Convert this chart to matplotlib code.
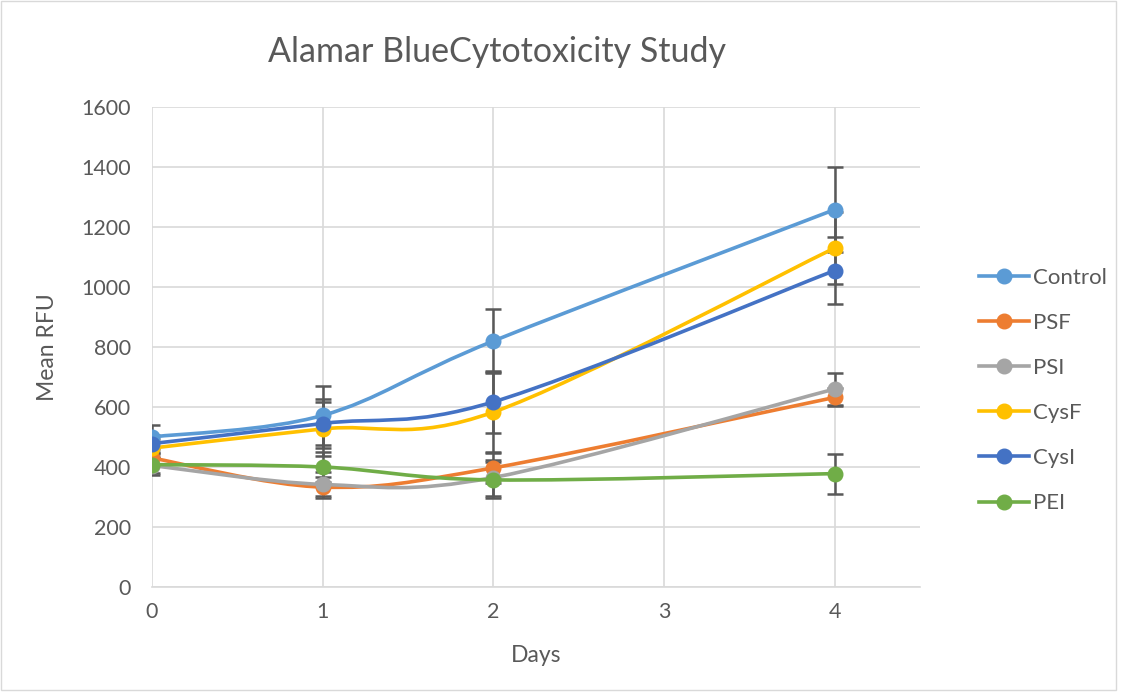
import numpy as np
import matplotlib
matplotlib.use("Agg")
import matplotlib.pyplot as plt
from matplotlib.path import Path
from matplotlib.patches import PathPatch, Rectangle
from matplotlib.lines import Line2D

plt.rcParams['font.family'] = ['Lato', 'DejaVu Sans']

days = [0, 1, 2, 4]
series_names = ["Control", "PSF", "PSI", "CysF", "CysI", "PEI"]
control = [500, 572, 820, 1258]
psf = [430, 333, 397, 632]
psi = [405, 342, 365, 660]
cysf = [463, 527, 583, 1130]
cysi = [478, 545, 617, 1055]
pei = [408, 400, 357, 378]

control_err = [40, 97, 107, 142]
psf_err = [20, 35, 50, 30]
psi_err = [25, 40, 60, 53]
cysf_err = [30, 90, 133, 120]
cysi_err = [30, 82, 103, 112]
pei_err = [35, 50, 60, 67]

values = [control, psf, psi, cysf, cysi, pei]
errors = [control_err, psf_err, psi_err, cysf_err, cysi_err, pei_err]
colors = ["#5B9BD5", "#ED7D31", "#A5A5A5", "#FFC000", "#4472C4", "#70AD47"]

x_ticks = [0, 1, 2, 3, 4]
y_ticks = [0, 200, 400, 600, 800, 1000, 1200, 1400, 1600]

fig = plt.figure(figsize=(11.26, 6.98), dpi=100)
fig.patches.append(Rectangle((0.001, 0.012), 0.990, 0.986, transform=fig.transFigure,
                             fill=False, edgecolor="#D9D9D9", linewidth=1.0))
ax = fig.add_axes([152/1126, (698-587)/698, (920-152)/1126, 480/698])

def smooth_path(xs, ys):
    pts = np.column_stack([xs, ys]).astype(float)
    n = len(pts)
    verts = [pts[0]]
    codes = [Path.MOVETO]
    for i in range(n - 1):
        p0 = pts[i - 1] if i > 0 else pts[i]
        p1 = pts[i]
        p2 = pts[i + 1]
        p3 = pts[i + 2] if i + 2 < n else pts[i + 1]
        c1 = p1 + (p2 - p0) / 6.0
        c2 = p2 - (p3 - p1) / 6.0
        verts += [c1, c2, p2]
        codes += [Path.CURVE4] * 3
    return Path(verts, codes)

for vals, err, col in zip(values, errors, colors):
    ax.errorbar(days, vals, yerr=err, fmt="none", ecolor="#595959",
                elinewidth=1.8, capsize=6, capthick=1.8, zorder=2)

for k, (vals, col) in enumerate(zip(values, colors)):
    patch = PathPatch(smooth_path(days, vals), facecolor="none", edgecolor=col,
                      linewidth=2.6, zorder=3 + k, capstyle="round")
    ax.add_patch(patch)
    ax.plot(days, vals, linestyle="none", marker="o", markersize=10.5,
            color=col, zorder=3 + k)

ax.set_xlim(0, 4.5)
ax.set_ylim(0, 1600)
ax.set_xticks(x_ticks)
ax.set_yticks(y_ticks)
ax.grid(True, color="#D9D9D9", linewidth=1.2, zorder=0)
ax.set_axisbelow(True)
for s in ["top", "right", "left"]:
    ax.spines[s].set_visible(False)
ax.spines["bottom"].set_color("#D9D9D9")
ax.spines["bottom"].set_linewidth(1.2)
ax.tick_params(length=0, labelsize=15.5, colors="#595959")
ax.tick_params(axis="y", pad=15)
ax.tick_params(axis="x", pad=11)
ax.set_xlabel("Days", fontsize=16.5, color="#595959", labelpad=16)
ax.set_ylabel("Mean RFU", fontsize=16.5, color="#595959", labelpad=17)

fig.text(497/1126, 1 - 52/698, "Alamar BlueCytotoxicity Study", ha="center", va="center",
         fontsize=24.5, color="#595959")

handles = [Line2D([0], [0], color=c, linewidth=2.6, marker="o", markersize=10.5)
           for c in colors]
leg = fig.legend(handles, series_names, loc="center left",
                 bbox_to_anchor=(959/1126, 1 - 390.5/698), frameon=False,
                 fontsize=16, handlelength=2.25, labelspacing=1.13, handletextpad=0.2,
                 labelcolor="#595959")

fig.savefig("out.png", dpi=100)
